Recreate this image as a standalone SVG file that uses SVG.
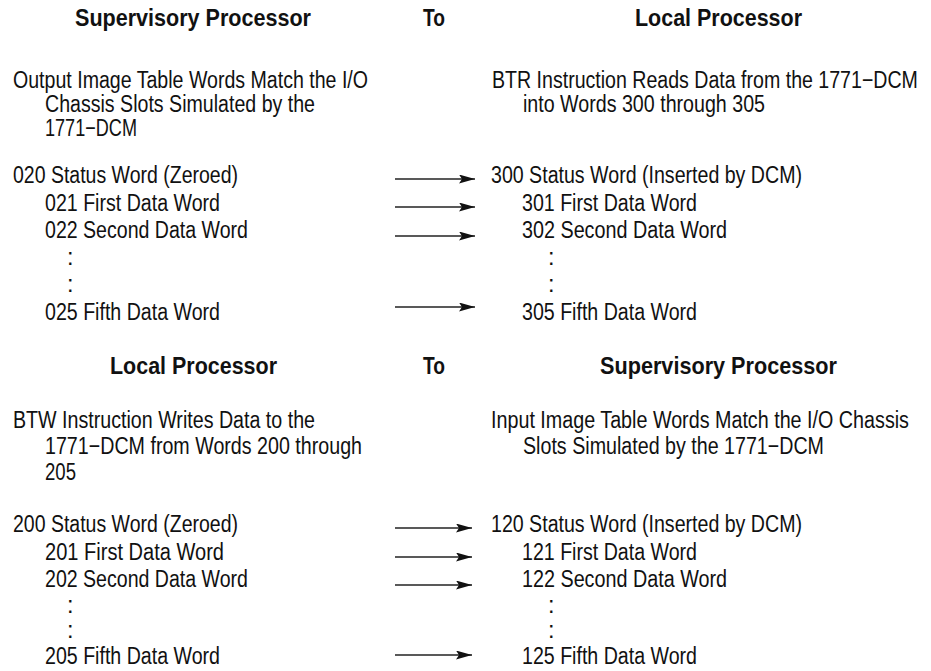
<svg xmlns="http://www.w3.org/2000/svg" width="931" height="671" viewBox="0 0 931 671">
<style>
text{font-family:"Liberation Sans",Arial,sans-serif;font-size:23.5px;fill:#111}
.h{font-weight:bold;font-size:24px}
.c{stroke:#222;stroke-width:1.4;fill:none}
</style>
<defs>
<marker id="ah" viewBox="0 0 16 9" refX="16" refY="4.5" markerWidth="16" markerHeight="9" markerUnits="userSpaceOnUse" orient="auto">
<path d="M0,0 L16,4.5 L0,9 L3,4.5 Z" fill="#111"/>
</marker>
</defs>
<rect width="931" height="671" fill="#fff"/>

<g id="hdr-top-left"><text class="h" x="75" y="26" textLength="236" lengthAdjust="spacingAndGlyphs">Supervisory Processor</text></g>
<g id="hdr-top-to"><text class="h" x="423" y="26" textLength="22" lengthAdjust="spacingAndGlyphs">To</text></g>
<g id="hdr-top-right"><text class="h" x="635" y="26" textLength="167" lengthAdjust="spacingAndGlyphs">Local Processor</text></g>

<g id="desc-top-left">
<text x="13" y="88" textLength="355" lengthAdjust="spacingAndGlyphs">Output Image Table Words Match the I/O</text>
<text x="45" y="112" textLength="270" lengthAdjust="spacingAndGlyphs">Chassis Slots Simulated by the</text>
<text x="45" y="136" textLength="92" lengthAdjust="spacingAndGlyphs">1771−DCM</text>
</g>
<g id="desc-top-right">
<text transform="translate(492,88) scale(0.84,1)" x="0" y="0" textLength="507" lengthAdjust="spacingAndGlyphs">BTR Instruction Reads Data from the 1771−DCM</text>
<text x="523" y="112" textLength="242" lengthAdjust="spacingAndGlyphs">into Words 300 through 305</text>
</g>

<g id="w020"><text x="13" y="183" textLength="225" lengthAdjust="spacingAndGlyphs">020 Status Word (Zeroed)</text></g>
<g id="w021"><text x="45" y="211" textLength="175" lengthAdjust="spacingAndGlyphs">021 First Data Word</text></g>
<g id="w022"><text x="45" y="238" textLength="203" lengthAdjust="spacingAndGlyphs">022 Second Data Word</text></g>
<g id="dots-top-left"><text x="67" y="265">:</text><text x="67" y="292">:</text></g>
<g id="w025"><text x="45" y="320" textLength="175" lengthAdjust="spacingAndGlyphs">025 Fifth Data Word</text></g>

<g id="w300"><text x="491" y="183" textLength="311" lengthAdjust="spacingAndGlyphs">300 Status Word (Inserted by DCM)</text></g>
<g id="w301"><text x="522" y="211" textLength="175" lengthAdjust="spacingAndGlyphs">301 First Data Word</text></g>
<g id="w302"><text x="522" y="238" textLength="205" lengthAdjust="spacingAndGlyphs">302 Second Data Word</text></g>
<g id="dots-top-right"><text x="548" y="265">:</text><text x="548" y="292">:</text></g>
<g id="w305"><text x="522" y="320" textLength="175" lengthAdjust="spacingAndGlyphs">305 Fifth Data Word</text></g>

<g id="hdr-bot-left"><text class="h" x="110" y="374" textLength="167" lengthAdjust="spacingAndGlyphs">Local Processor</text></g>
<g id="hdr-bot-to"><text class="h" x="423" y="374" textLength="22" lengthAdjust="spacingAndGlyphs">To</text></g>
<g id="hdr-bot-right"><text class="h" x="600" y="374" textLength="237" lengthAdjust="spacingAndGlyphs">Supervisory Processor</text></g>

<g id="desc-bot-left">
<text x="13" y="428" textLength="302" lengthAdjust="spacingAndGlyphs">BTW Instruction Writes Data to the</text>
<text x="45" y="454" textLength="317" lengthAdjust="spacingAndGlyphs">1771−DCM from Words 200 through</text>
<text x="45" y="480" textLength="31" lengthAdjust="spacingAndGlyphs">205</text>
</g>
<g id="desc-bot-right">
<text transform="translate(491,428) scale(0.84,1)" x="0" y="0" textLength="497.6" lengthAdjust="spacingAndGlyphs">Input Image Table Words Match the I/O Chassis</text>
<text x="523" y="454" textLength="301" lengthAdjust="spacingAndGlyphs">Slots Simulated by the 1771−DCM</text>
</g>

<g id="w200"><text x="13" y="532" textLength="225" lengthAdjust="spacingAndGlyphs">200 Status Word (Zeroed)</text></g>
<g id="w201"><text x="45" y="560" textLength="179" lengthAdjust="spacingAndGlyphs">201 First  Data Word</text></g>
<g id="w202"><text x="45" y="587" textLength="203" lengthAdjust="spacingAndGlyphs">202 Second Data Word</text></g>
<g id="dots-bot-left"><text x="67" y="613">:</text><text x="67" y="638">:</text></g>
<g id="w205"><text x="45" y="664" textLength="175" lengthAdjust="spacingAndGlyphs">205 Fifth Data Word</text></g>

<g id="w120"><text x="491" y="532" textLength="311" lengthAdjust="spacingAndGlyphs">120 Status Word (Inserted by DCM)</text></g>
<g id="w121"><text x="522" y="560" textLength="175" lengthAdjust="spacingAndGlyphs">121 First Data Word</text></g>
<g id="w122"><text x="522" y="587" textLength="205" lengthAdjust="spacingAndGlyphs">122 Second Data Word</text></g>
<g id="dots-bot-right"><text x="548" y="613">:</text><text x="548" y="638">:</text></g>
<g id="w125"><text x="522" y="664" textLength="175" lengthAdjust="spacingAndGlyphs">125 Fifth Data Word</text></g>

<g id="connectors">
<path class="c" d="M395,179 H475" marker-end="url(#ah)"/>
<path class="c" d="M395,207 H475" marker-end="url(#ah)"/>
<path class="c" d="M395,236 H475" marker-end="url(#ah)"/>
<path class="c" d="M395,307 H475" marker-end="url(#ah)"/>
<path class="c" d="M395,528 H472" marker-end="url(#ah)"/>
<path class="c" d="M395,557 H472" marker-end="url(#ah)"/>
<path class="c" d="M395,585 H472" marker-end="url(#ah)"/>
<path class="c" d="M395,655 H472" marker-end="url(#ah)"/>
</g>
</svg>
